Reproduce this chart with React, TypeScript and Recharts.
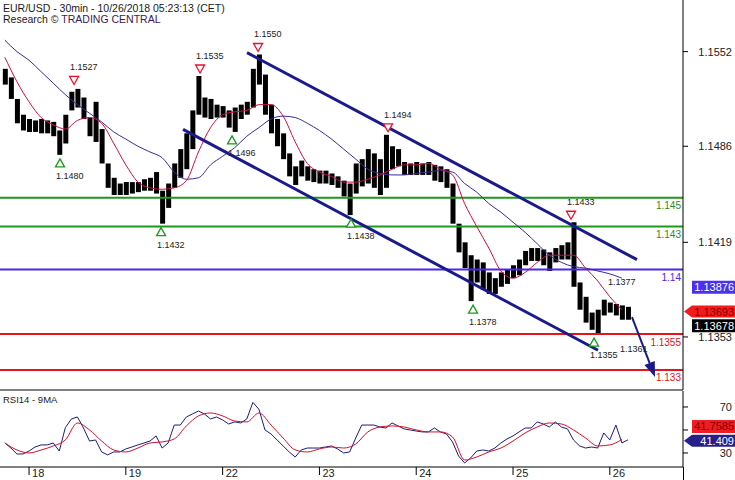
import React from "react";
import { ComposedChart, Bar, Line, XAxis, YAxis, ReferenceLine, ReferenceDot } from "recharts";

const FONT = "'Liberation Sans', Arial, sans-serif";

// x runs in trading days, 0 = the 18th
const DAY_TICKS = [0, 1, 2, 3, 4, 5, 6];
const DAY_LABELS = ["18", "19", "22", "23", "24", "25", "26"];
const X_DOMAIN = [-0.3, 6.756];

const BAR_START = -0.25;
const BAR_STEP = 1 / 16; // 1.5h buckets
const MA_STEP = 1 / 8; // 3h

const PRICE_DOMAIN = [1.1316, 1.1588];
const PRICE_TICKS = [1.1353, 1.1419, 1.1486, 1.1552];
const RSI_DOMAIN = [17.8, 83.9];
const RSI_TICKS = [30, 50, 70];

const HIGHS = [
  1.1540, 1.1534, 1.1519, 1.1508, 1.1505, 1.1504, 1.1505, 1.1504, 1.1503, 1.1497,
  1.1508, 1.1524, 1.1526, 1.1520, 1.1506, 1.1517, 1.1498, 1.1474, 1.1464, 1.1460,
  1.1461, 1.1461, 1.1461, 1.1463, 1.1464, 1.1468, 1.1455, 1.1460, 1.1474, 1.1484,
  1.1495, 1.1511, 1.1535, 1.1520, 1.1519, 1.1515, 1.1514, 1.1511, 1.1513, 1.1515,
  1.1517, 1.1540, 1.1550, 1.1536, 1.1515, 1.1505, 1.1495, 1.1481, 1.1472, 1.1476,
  1.1472, 1.1470, 1.1469, 1.1469, 1.1467, 1.1465, 1.1462, 1.1460, 1.1474, 1.1477,
  1.1484, 1.1481, 1.1477, 1.1494, 1.1486, 1.1484, 1.1475, 1.1474, 1.1475, 1.1474,
  1.1475, 1.1473, 1.1472, 1.1470, 1.1460, 1.1432, 1.1419, 1.1410, 1.1407, 1.1405,
  1.1398, 1.1394, 1.1398, 1.1400, 1.1403, 1.1407, 1.1413, 1.1415, 1.1415, 1.1414,
  1.1412, 1.1415, 1.1417, 1.1419, 1.1433, 1.1391, 1.1381, 1.1370, 1.1372, 1.1379,
  1.1377, 1.1376, 1.1375, 1.1374,
];

const LOWS = [
  1.1529, 1.1519, 1.1502, 1.1497, 1.1496, 1.1496, 1.1495, 1.1495, 1.1493, 1.1480,
  1.1488, 1.1511, 1.1513, 1.1505, 1.1493, 1.1489, 1.1474, 1.1457, 1.1452, 1.1452,
  1.1452, 1.1453, 1.1454, 1.1455, 1.1455, 1.1453, 1.1432, 1.1443, 1.1457, 1.1464,
  1.1470, 1.1484, 1.1508, 1.1506, 1.1505, 1.1506, 1.1506, 1.1499, 1.1496, 1.1505,
  1.1508, 1.1513, 1.1529, 1.1508, 1.1495, 1.1486, 1.1477, 1.1465, 1.1459, 1.1465,
  1.1462, 1.1461, 1.1460, 1.1460, 1.1459, 1.1457, 1.1451, 1.1438, 1.1453, 1.1458,
  1.1460, 1.1457, 1.1452, 1.1457, 1.1470, 1.1472, 1.1466, 1.1466, 1.1466, 1.1466,
  1.1466, 1.1462, 1.1461, 1.1457, 1.1432, 1.1412, 1.1401, 1.1378, 1.1391, 1.1386,
  1.1383, 1.1383, 1.1388, 1.1390, 1.1394, 1.1396, 1.1403, 1.1406, 1.1406, 1.1403,
  1.1399, 1.1405, 1.1407, 1.1407, 1.1388, 1.1372, 1.1363, 1.1358, 1.1355, 1.1368,
  1.1370, 1.1368, 1.1365, 1.1365,
];

const MA_FAST = [
  1.1548, 1.1531, 1.1517, 1.1506, 1.1501, 1.1498, 1.1504, 1.1506, 1.1502, 1.1488,
  1.1473, 1.1461, 1.1457, 1.1456, 1.1457, 1.1462, 1.1482, 1.1499, 1.1508, 1.1510,
  1.1511, 1.1515, 1.1515, 1.1507, 1.1489, 1.1474, 1.1468, 1.1465, 1.1461, 1.1461,
  1.1463, 1.1466, 1.1470, 1.1473, 1.1473, 1.1474, 1.1470, 1.1466, 1.1446, 1.1430,
  1.1415, 1.1399, 1.1394, 1.1398, 1.1405, 1.1410, 1.1410, 1.1410, 1.1401, 1.1392,
  1.1381, 1.1372,
];

const MA_SLOW = [
  1.1560, 1.1552, 1.1546, 1.1538, 1.1530, 1.1522, 1.1515, 1.1509, 1.1503, 1.1496,
  1.1491, 1.1486, 1.1482, 1.1478, 1.1468, 1.1463, 1.1464, 1.1473, 1.1479, 1.1485,
  1.1493, 1.1499, 1.1505, 1.1507, 1.1506, 1.1502, 1.1497, 1.1491, 1.1484, 1.1477,
  1.1470, 1.1467, 1.1466, 1.1466, 1.1467, 1.1468, 1.1469, 1.1468, 1.1460, 1.1454,
  1.1446, 1.1440, 1.1433, 1.1426, 1.1418, 1.1410, 1.1405, 1.1402, 1.1401, 1.1399,
  1.1397, 1.1394,
];

const RSI = [
  38.7, 34.3, 29.1, 29.1, 31.7, 35.2, 37.0, 37.0, 38.7, 31.7,
  52.0, 59.6, 61.3, 51.7, 40.4, 41.3, 30.9, 28.3, 30.9, 30.9,
  33.5, 35.2, 37.0, 38.7, 40.4, 44.8, 34.3, 38.7, 54.3, 54.3,
  61.3, 63.9, 66.5, 63.9, 59.6, 61.3, 58.7, 55.2, 57.0, 56.1,
  59.6, 74.0, 68.0, 50.0, 46.5, 41.3, 36.1, 30.9, 26.5, 32.6,
  34.3, 34.3, 34.3, 35.2, 36.1, 33.5, 30.0, 30.9, 43.0, 54.3,
  54.3, 54.3, 52.6, 51.7, 56.1, 53.5, 50.9, 50.0, 49.1, 48.3,
  48.3, 51.7, 48.3, 46.5, 39.6, 27.4, 21.3, 25.7, 31.7, 32.6,
  31.7, 34.3, 38.7, 42.2, 44.8, 48.3, 51.7, 51.7, 57.0, 55.2,
  52.6, 57.0, 52.6, 50.9, 41.3, 36.1, 34.3, 35.2, 34.3, 47.4,
  41.3, 54.3, 38.7, 41.4,
];

const RSI_MA = [
  38.7, 32.6, 30.0, 32.6, 36.1, 41.3, 56.1, 50.0, 40.4, 32.6,
  30.9, 34.3, 38.7, 39.6, 42.2, 53.5, 62.2, 64.8, 62.2, 57.8,
  57.0, 64.8, 54.3, 43.0, 32.6, 30.9, 33.5, 35.2, 34.3, 37.8,
  48.3, 52.6, 53.5, 52.6, 50.0, 48.3, 48.3, 43.9, 23.9, 26.5,
  30.9, 34.3, 40.4, 47.4, 52.6, 56.1, 55.2, 50.0, 43.0, 36.1,
  37.0, 41.76,
];

const PEAK_T = [0.465, 1.767, 2.366, 3.709, 5.599];
const PEAK_P = [1.1527, 1.1535, 1.155, 1.1494, 1.1433];
const TROUGH_T = [0.32, 1.364, 2.097, 3.326, 4.587, 5.837];
const TROUGH_P = [1.148, 1.1432, 1.1496, 1.1438, 1.1378, 1.1355];

const LEVELS = [
  { value: 1.145, label: "1.145", color: "#1c9a1c", text: "#2a8a2a" },
  { value: 1.143, label: "1.143", color: "#1c9a1c", text: "#2a8a2a" },
  { value: 1.14, label: "1.14", color: "#4a28e6", text: "#4a28e6" },
  { value: 1.1355, label: "1.1355", color: "#e6141e", text: "#d8141e" },
  { value: 1.133, label: "1.133", color: "#e6141e", text: "#d8141e" },
];

// trend channel and projected move
const CHANNEL_UP = [{ x: 2.252, y: 1.15513 }, { x: 6.281, y: 1.14069 }];
const CHANNEL_DOWN = [{ x: 1.591, y: 1.14978 }, { x: 5.878, y: 1.13437 }];
const PROJECTION = [{ x: 6.229, y: 1.13668 }, { x: 6.467, y: 1.1325 }];
const NOTES = [
  { t: 5.981, p: 1.13911, label: "1.1377" },
  { t: 6.105, p: 1.13445, label: "1.1361" },
];

const PRICE_TAGS = [
  { value: 1.13876, label: "1.13876", fill: "#4a30f0", text: "#fff", arrow: false, dy: 0 },
  { value: 1.13693, label: "1.13693", fill: "#f01c1c", text: "#8a0000", arrow: true, dy: -2 },
  { value: 1.13678, label: "1.13678", fill: "#000", text: "#fff", arrow: false, dy: 10 },
];
const RSI_TAGS = [
  { value: 41.7585, label: "41.7585", fill: "#f01c24", text: "#7a0000", arrow: false, dy: -13 },
  { value: 41.409, label: "41.409", fill: "#26208a", text: "#fff", arrow: true, dy: 1 },
];

const bars = HIGHS.map((h, i) => ({ t: BAR_START + i * BAR_STEP, range: [LOWS[i], h] }));
const fastData = MA_FAST.map((v, i) => ({ t: BAR_START + i * MA_STEP, v }));
const slowData = MA_SLOW.map((v, i) => ({ t: BAR_START + i * MA_STEP, v }));
const rsiData = RSI.map((v, i) => ({ t: BAR_START + i * BAR_STEP, v }));
const rsiMaData = RSI_MA.map((v, i) => ({ t: BAR_START + i * MA_STEP, v }));

const PriceTick = (props: any) => {
  const { x, y, payload } = props;
  return (
    <text x={x + 44} y={y} textAnchor="end" dominantBaseline="central" fontSize={11} fontFamily={FONT} fill="#222">
      {payload.value.toFixed(4)}
    </text>
  );
};

const RsiTick = (props: any) => {
  const { x, y, payload } = props;
  if (payload.value === 50) return <g />;
  return (
    <text x={x + 44} y={y} textAnchor="end" dominantBaseline="central" fontSize={11} fontFamily={FONT} fill="#222">
      {payload.value}
    </text>
  );
};

const DayTick = (props: any) => {
  const { x, y, payload } = props;
  return (
    <g>
      <line x1={x} x2={x} y1={y} y2={y + 8} stroke="#000" />
      <text x={x + 3} y={y + 6} dominantBaseline="central" fontSize={11} fontFamily={FONT} fill="#222">
        {DAY_LABELS[payload.value]}
      </text>
    </g>
  );
};

const LevelText = (props: any) => {
  const { viewBox, text, color } = props;
  if (!viewBox) return null;
  return (
    <text x={viewBox.x + viewBox.width - 2} y={viewBox.y + 8} textAnchor="end" dominantBaseline="central"
      fontSize={10} fontFamily={FONT} fill={color}>
      {text}
    </text>
  );
};

const peakShape = (label: string) => (props: any) => {
  const { cx, cy } = props;
  const ty = cy - 7;
  return (
    <g>
      <polygon points={`${cx - 4.5},${ty - 4} ${cx + 4.5},${ty - 4} ${cx},${ty + 4}`} fill="#fff" stroke="#e8102a" strokeWidth={1.3} />
      <text x={cx - 4} y={cy - 20} dominantBaseline="central" fontSize={9} fontFamily={FONT} fill="#222">{label}</text>
    </g>
  );
};

const troughShape = (label: string) => (props: any) => {
  const { cx, cy } = props;
  const ty = cy + 8;
  return (
    <g>
      <polygon points={`${cx - 4.5},${ty + 4} ${cx + 4.5},${ty + 4} ${cx},${ty - 4}`} fill="#fff" stroke="#1a9a1a" strokeWidth={1.3} />
      <text x={cx - 4} y={cy + 21} dominantBaseline="central" fontSize={9} fontFamily={FONT} fill="#222">{label}</text>
    </g>
  );
};

const noteShape = (label: string) => (props: any) => (
  <text x={props.cx} y={props.cy} dominantBaseline="central" fontSize={9} fontFamily={FONT} fill="#222">{label}</text>
);

const tagShape = (tag: any) => (props: any) => {
  const { cx } = props;
  const cy = props.cy + tag.dy;
  const left = cx + 9;
  const right = cx + 52;
  const pts = tag.arrow
    ? `${cx + 1},${cy} ${left},${cy - 6} ${right},${cy - 6} ${right},${cy + 6} ${left},${cy + 6}`
    : `${left},${cy - 6.5} ${right},${cy - 6.5} ${right},${cy + 6.5} ${left},${cy + 6.5}`;
  return (
    <g>
      <polygon points={pts} fill={tag.fill} />
      <text x={right - 1} y={cy} textAnchor="end" dominantBaseline="central" fontSize={11} fontFamily={FONT} fill={tag.text}>
        {tag.label}
      </text>
    </g>
  );
};

const ArrowShape = (props: any) => {
  const { x1, y1, x2, y2 } = props;
  const a = Math.atan2(y2 - y1, x2 - x1);
  const len = 15;
  const w = 5.5;
  const bx = x2 - len * Math.cos(a);
  const by = y2 - len * Math.sin(a);
  const px = -Math.sin(a) * w;
  const py = Math.cos(a) * w;
  return (
    <g>
      <line x1={x1} y1={y1} x2={bx} y2={by} stroke="#1a1a8a" strokeWidth={2} />
      <polygon points={`${x2},${y2} ${bx + px},${by + py} ${bx - px},${by - py}`} fill="#1a1a8a" />
    </g>
  );
};

export default function App() {
  return (
    <div style={{ position: "absolute", left: 0, top: 0, width: 735, height: 480, background: "#fff", overflow: "hidden" }}>
      <div style={{ position: "absolute", left: 0, top: 0 }}>
        <ComposedChart width={735} height={391} data={bars} margin={{ top: 0, right: 0, bottom: 0, left: 0 }}>
          <XAxis type="number" dataKey="t" domain={X_DOMAIN} allowDataOverflow height={1} tick={false} tickLine={false}
            axisLine={{ stroke: "#000" }} />
          <YAxis orientation="right" width={52} domain={PRICE_DOMAIN} ticks={PRICE_TICKS} allowDataOverflow interval={0}
            axisLine={{ stroke: "#000" }} tickLine={{ stroke: "#000" }} tickSize={5} tickMargin={0} tick={<PriceTick />} />
          {LEVELS.map((l) => (
            <ReferenceLine key={l.label} y={l.value} stroke={l.color} strokeWidth={2}
              label={<LevelText text={l.label} color={l.text} />} />
          ))}
          <Line data={slowData} dataKey="v" type="monotone" stroke="#3b2b9b" strokeWidth={1} dot={false} activeDot={false}
            isAnimationActive={false} />
          <Line data={fastData} dataKey="v" type="monotone" stroke="#cc1040" strokeWidth={1} dot={false} activeDot={false}
            isAnimationActive={false} />
          <Bar dataKey="range" barSize={5} fill="#000" isAnimationActive={false} />
          <ReferenceLine segment={CHANNEL_UP} stroke="#1a1a8a" strokeWidth={3} ifOverflow="visible" />
          <ReferenceLine segment={CHANNEL_DOWN} stroke="#1a1a8a" strokeWidth={3} ifOverflow="visible" />
          <ReferenceLine segment={PROJECTION} ifOverflow="visible" shape={ArrowShape} />
          {PEAK_T.map((t, i) => (
            <ReferenceDot key={"p" + i} x={t} y={PEAK_P[i]} shape={peakShape(PEAK_P[i].toFixed(4))} />
          ))}
          {TROUGH_T.map((t, i) => (
            <ReferenceDot key={"t" + i} x={t} y={TROUGH_P[i]} shape={troughShape(TROUGH_P[i].toFixed(4))} />
          ))}
          {NOTES.map((n) => (
            <ReferenceDot key={n.label} x={n.t} y={n.p} shape={noteShape(n.label)} />
          ))}
          {PRICE_TAGS.map((tag) => (
            <ReferenceDot key={tag.label} x={X_DOMAIN[1]} y={tag.value} shape={tagShape(tag)} />
          ))}
        </ComposedChart>
      </div>
      <div style={{ position: "absolute", left: 0, top: 391 }}>
        <ComposedChart width={735} height={89} margin={{ top: 0, right: 0, bottom: 0, left: 0 }}>
          <XAxis type="number" dataKey="t" domain={X_DOMAIN} allowDataOverflow ticks={DAY_TICKS} interval={0} height={13}
            tickSize={0} tickMargin={0} tickLine={false} tick={<DayTick />} axisLine={{ stroke: "#000" }} />
          <YAxis orientation="right" width={52} domain={RSI_DOMAIN} ticks={RSI_TICKS} allowDataOverflow interval={0}
            axisLine={{ stroke: "#000" }} tickLine={{ stroke: "#000" }} tickSize={5} tickMargin={0} tick={<RsiTick />} />
          <Line data={rsiData} dataKey="v" type="linear" stroke="#1c1c78" strokeWidth={1} dot={false} activeDot={false}
            isAnimationActive={false} />
          <Line data={rsiMaData} dataKey="v" type="monotone" stroke="#d6102a" strokeWidth={1} dot={false} activeDot={false}
            isAnimationActive={false} />
          {RSI_TAGS.map((tag) => (
            <ReferenceDot key={tag.label} x={X_DOMAIN[1]} y={tag.value} shape={tagShape(tag)} />
          ))}
        </ComposedChart>
      </div>
      <div style={{ position: "absolute", left: 683, top: 467, width: 1, height: 13, background: "#000" }} />
      <svg width={735} height={480} style={{ position: "absolute", left: 0, top: 0, pointerEvents: "none" }}>
        <text x={3} y={12} fontSize={10.5} fontFamily={FONT} fill="#1a1a1a">EUR/USD - 30min - 10/26/2018 05:23:13 (CET)</text>
        <text x={3} y={23} fontSize={10.5} fontFamily={FONT} fill="#1a1a1a">
          Research © <tspan fill="#3d1852">TRADING CENTRAL</tspan>
        </text>
        <text x={3} y={403} fontSize={9.5} fontFamily={FONT} fill="#1a1a1a">RSI14 - 9MA</text>
      </svg>
    </div>
  );
}
